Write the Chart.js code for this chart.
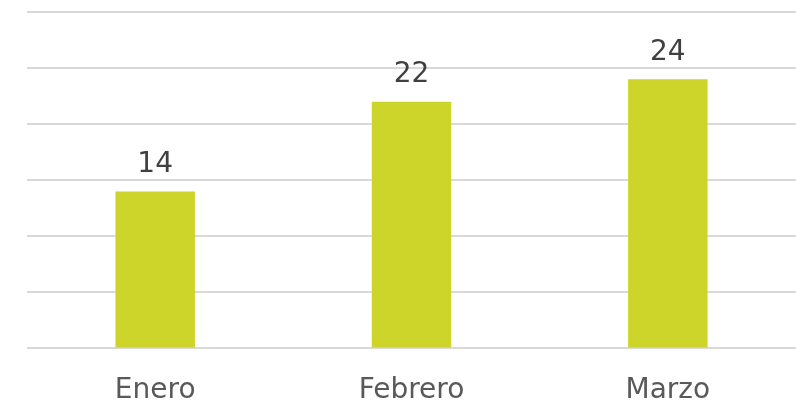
<!DOCTYPE html>
<html>
<head>
<meta charset="utf-8">
<script src="https://cdn.jsdelivr.net/npm/chart.js@4/dist/chart.umd.min.js"></script>
<style>
  html, body { margin: 0; padding: 0; background: #fff; }
  #wrap { width: 796px; height: 402px; }
</style>
</head>
<body>
<div id="wrap"><canvas id="c" width="796" height="402"></canvas></div>
<script>
var months = ['Enero', 'Febrero', 'Marzo'];
var counts = [14, 22, 24];
var yMax = 30;
var yStep = 5;

// draws the value over each bar
var valueLabels = {
  id: 'valueLabels',
  afterDatasetsDraw: function (chart) {
    var ctx = chart.ctx;
    var meta = chart.getDatasetMeta(0);
    ctx.save();
    ctx.font = '28px "DejaVu Sans", Verdana, sans-serif';
    ctx.fillStyle = '#404040';
    ctx.textAlign = 'center';
    ctx.textBaseline = 'bottom';
    meta.data.forEach(function (bar, i) {
      ctx.fillText(String(counts[i]), bar.x, bar.y - 13);
    });
    ctx.restore();
  }
};

new Chart(document.getElementById('c').getContext('2d'), {
  type: 'bar',
  data: {
    labels: months,
    datasets: [{
      data: counts,
      backgroundColor: '#CDD42A',
      borderWidth: 0,
      categoryPercentage: 0.31,
      barPercentage: 1.0
    }]
  },
  options: {
    responsive: false,
    animation: false,
    layout: { padding: { left: 27, right: 0, top: 12, bottom: -32 } },
    plugins: { legend: { display: false }, tooltip: { enabled: false } },
    scales: {
      x: {
        grid: { display: false, drawTicks: false },
        border: { display: false },
        ticks: {
          color: '#595959',
          padding: 26,
          font: { family: '"DejaVu Sans", Verdana, sans-serif', size: 28 }
        }
      },
      y: {
        min: 0,
        max: yMax,
        ticks: { stepSize: yStep, display: false },
        border: { display: false },
        grid: { color: '#D9D9D9', lineWidth: 2, drawTicks: false }
      }
    }
  },
  plugins: [valueLabels]
});
</script>
</body>
</html>
